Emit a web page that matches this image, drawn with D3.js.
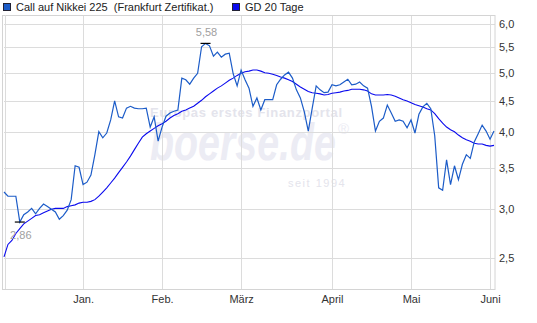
<!DOCTYPE html>
<html>
<head>
<meta charset="utf-8">
<script src="https://cdn.jsdelivr.net/npm/d3@7"></script>
<style>
  body { margin: 0; background: #fff; }
  svg { display: block; font-family: "Liberation Sans", Arial, sans-serif; }
</style>
</head>
<body>
<svg id="chart" width="537" height="323"></svg>
<script>
const width = 537, height = 323;

// Schlusskurse pro Handelstag (Dez. bis Anfang Juni)
const price = [3.20,3.15,3.15,3.15,2.86,2.94,2.97,3.01,2.95,3.01,3.06,3.03,3.00,2.97,2.89,2.93,2.99,3.11,3.53,3.51,
  3.29,3.32,3.41,3.68,4.01,3.92,3.99,4.19,4.50,4.24,4.22,4.38,4.41,4.38,4.37,4.37,4.38,4.08,4.24,3.87,
  4.08,4.25,4.30,4.33,4.35,4.90,4.87,4.79,4.90,4.99,5.51,5.58,5.53,5.32,5.40,5.30,5.36,5.38,4.98,4.76,
  5.05,4.87,4.72,4.41,4.55,4.35,4.52,4.52,4.52,4.78,4.88,4.96,5.01,4.90,4.69,4.55,4.32,4.02,4.38,4.76,
  4.69,4.64,4.65,4.78,4.76,4.78,4.83,4.88,4.78,4.79,4.83,4.76,4.72,4.41,4.02,4.17,4.22,4.43,4.30,4.17,
  4.19,4.17,4.07,4.19,3.99,4.28,4.40,4.46,4.37,3.95,3.25,3.22,3.61,3.29,3.53,3.35,3.55,3.68,3.63,3.86,
  3.98,4.11,4.02,3.90,4.02];

// gleitender Durchschnitt 20 Tage
const gd20 = [2.51,2.63,2.67,2.74,2.79,2.84,2.87,2.90,2.93,2.94,2.96,2.98,3.00,3.01,3.01,3.01,3.03,3.04,3.05,3.07,
  3.08,3.08,3.09,3.11,3.15,3.20,3.25,3.31,3.37,3.44,3.51,3.58,3.66,3.75,3.84,3.93,3.98,4.02,4.06,4.10,
  4.13,4.17,4.22,4.26,4.29,4.33,4.35,4.38,4.41,4.46,4.51,4.57,4.62,4.67,4.72,4.76,4.81,4.86,4.90,4.95,
  4.99,5.02,5.03,5.05,5.05,5.03,5.00,4.99,4.97,4.95,4.92,4.90,4.87,4.84,4.79,4.74,4.70,4.66,4.64,4.63,
  4.62,4.60,4.61,4.63,4.64,4.65,4.67,4.68,4.70,4.70,4.70,4.69,4.67,4.62,4.60,4.60,4.60,4.61,4.60,4.58,
  4.55,4.52,4.50,4.47,4.44,4.42,4.40,4.37,4.35,4.29,4.21,4.14,4.08,4.04,4.01,3.96,3.92,3.89,3.87,3.84,
  3.83,3.83,3.81,3.80,3.81];

const monthLabels = ["Jan.", "Feb.", "März", "April", "Mai", "Juni"];
const monthIndex = [20, 40, 60, 83, 103, 123];
const yTicks = [2.5, 3.0, 3.5, 4.0, 4.5, 5.0, 5.5, 6.0];

const plotLeft = 4, plotRight = 494, plotTop = 15, plotBottom = 289;

const svg = d3.select("#chart");

const x = d3.scaleLinear().domain([0, price.length - 1]).range([plotLeft, plotRight]);
const y = d3.scaleLog().domain([2.5, 6.0]).range([258, 24]);

// Wasserzeichen
const wm = svg.append("g").attr("pointer-events", "none");
wm.append("text")
  .attr("x", 150).attr("y", 117)
  .attr("font-size", 13).attr("font-weight", "bold")
  .attr("textLength", 192).attr("lengthAdjust", "spacing")
  .attr("fill", "#e4e4ec")
  .text("Europas erstes Finanzportal");
wm.append("text")
  .attr("x", 150).attr("y", 160)
  .attr("font-size", 52).attr("font-weight", "bold").attr("font-style", "italic")
  .attr("textLength", 186).attr("lengthAdjust", "spacingAndGlyphs")
  .attr("fill", "#ececf4")
  .text("boerse.de");
wm.append("text")
  .attr("x", 338).attr("y", 134)
  .attr("font-size", 15)
  .attr("fill", "#ececf4")
  .text("®");
wm.append("text")
  .attr("x", 288).attr("y", 187)
  .attr("font-size", 11).attr("letter-spacing", 1.5)
  .attr("fill", "#e4e4ec")
  .text("seit 1994");

// Gitter
const grid = svg.append("g").attr("stroke", "#dcdcdc").attr("stroke-width", 1);
grid.selectAll("line.h")
  .data(yTicks)
  .join("line")
  .attr("class", "h")
  .attr("x1", plotLeft).attr("x2", plotRight + 1)
  .attr("y1", d => Math.round(y(d)) + 0.5)
  .attr("y2", d => Math.round(y(d)) + 0.5);
grid.selectAll("line.v")
  .data(monthIndex)
  .join("line")
  .attr("class", "v")
  .attr("y1", plotTop).attr("y2", plotBottom)
  .attr("x1", d => Math.round(x(d)) + 0.5)
  .attr("x2", d => Math.round(x(d)) + 0.5);

// Rahmen
svg.append("rect")
  .attr("x", 2.5).attr("y", plotTop + 0.5)
  .attr("width", plotRight + 1 - 2.5).attr("height", plotBottom - plotTop)
  .attr("fill", "none").attr("stroke", "#d4d4d4");
svg.append("line")
  .attr("x1", 5.5).attr("x2", 5.5).attr("y1", plotTop).attr("y2", plotBottom)
  .attr("stroke", "#dcdcdc");

// Achsen
const yAxis = svg.append("g")
  .attr("transform", `translate(${plotRight + 1},0)`)
  .call(d3.axisRight(y).tickValues(yTicks).tickSize(0).tickPadding(4)
    .tickFormat(d => d3.format(".1f")(d).replace(".", ",")));
yAxis.select(".domain").remove();
yAxis.selectAll("text").attr("font-size", 11).attr("fill", "#333");
yAxis.attr("font-family", null);

const xAxis = svg.append("g")
  .attr("transform", `translate(0,${plotBottom})`)
  .call(d3.axisBottom(x).tickValues(monthIndex).tickSize(0).tickPadding(6)
    .tickFormat((d, i) => monthLabels[i]));
xAxis.select(".domain").remove();
xAxis.selectAll("text").attr("font-size", 11).attr("fill", "#333");
xAxis.attr("font-family", null);

// Linien
const line = d3.line().x((d, i) => x(i)).y(d => y(d));

svg.append("path")
  .datum(gd20)
  .attr("fill", "none")
  .attr("stroke", "#0a0aee")
  .attr("stroke-width", 1.1)
  .attr("d", line);

svg.append("path")
  .datum(price)
  .attr("fill", "none")
  .attr("stroke", "#1c5cc8")
  .attr("stroke-width", 1.2)
  .attr("d", line);

// Hoch / Tief
const iMin = d3.minIndex(price), iMax = d3.maxIndex(price);
const fmt = v => d3.format(".2f")(v).replace(".", ",");

[[iMin, 13], [iMax, -7]].forEach(([i, dy]) => {
  const px = x(i), py = y(price[i]);
  svg.append("line")
    .attr("x1", px - 5).attr("x2", px + 5)
    .attr("y1", py).attr("y2", py)
    .attr("stroke", "#000").attr("stroke-width", 1.2);
  svg.append("text")
    .attr("x", px + 1).attr("y", py + dy + (dy > 0 ? 4 : 0))
    .attr("text-anchor", "middle")
    .attr("font-size", 11)
    .attr("fill", "#a0a0a0")
    .text(fmt(price[i]));
});

// Legende
const legend = [
  { name: "Call auf Nikkei 225  (Frankfurt Zertifikat.)", color: "#1c5cc8", x: 3 },
  { name: "GD 20 Tage", color: "#0a0aee", x: 232 }
];
const lg = svg.append("g");
legend.forEach(d => {
  lg.append("rect")
    .attr("x", d.x + 0.5).attr("y", 3.5)
    .attr("width", 7).attr("height", 7)
    .attr("fill", d.color).attr("stroke", "#223");
  lg.append("text")
    .attr("x", d.x + 13).attr("y", 11)
    .attr("font-size", 11).attr("fill", "#222")
    .style("white-space", "pre")
    .text(d.name);
});
</script>
</body>
</html>
